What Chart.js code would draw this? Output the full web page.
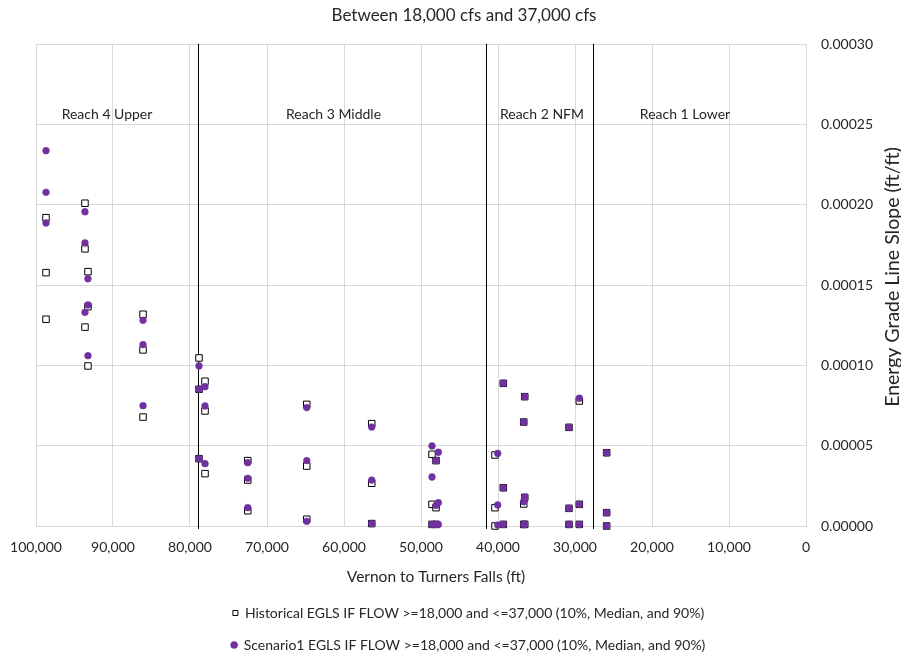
<!DOCTYPE html>
<html>
<head>
<meta charset="utf-8">
<script src="https://cdn.jsdelivr.net/npm/chart.js@4.4.1/dist/chart.umd.min.js"></script>
<style>
  html, body { margin: 0; padding: 0; background: #ffffff; }
  #wrap { width: 901px; height: 655px; }
</style>
</head>
<body>
<div id="wrap"><canvas id="c" width="901" height="655"></canvas></div>
<script>
// River stations (ft upstream of Turners Falls)
const stationsFt = [98700, 93640, 93250, 86100, 78830, 78050, 72500, 64840, 56400,
                    48570, 48050, 47750, 40390, 40040, 39310, 36660, 36530, 30780, 29440, 25890];

// Historical EGLS, 18,000-37,000 cfs (90%, median, 10%)
const hist90  = [0.0001919, 0.0002009, 0.0001583, 0.0001318, 0.0001046, 0.0000901, 0.0000407, 0.0000757, 0.0000637,
                 0.0000446, 0.0000407, null, 0.0000442, null, 0.0000888, 0.0000647, 0.0000805, 0.0000614, 0.0000778, 0.0000456];
const histMed = [0.0001577, 0.0001725, 0.0001365, 0.0001096, 0.0000851, 0.0000716, 0.0000286, 0.0000373, 0.0000266,
                 0.0000135, 0.0000114, null, 0.0000114, null, 0.0000238, 0.0000137, 0.0000178, 0.0000110, 0.0000135, 0.0000083];
const hist10  = [0.0001287, 0.0001238, 0.0000996, 0.0000678, 0.0000419, 0.0000326, 0.0000095, 0.0000042, 0.0000015,
                 0.0000010, 0.0000010, null, 0.0000000, null, 0.0000010, 0.0000010, 0.0000010, 0.0000010, 0.0000010, 0.0000000];

// Scenario1 EGLS, 18,000-37,000 cfs (90%, median, 10%)
const scen90  = [0.0002336, 0.0001956, 0.0001539, 0.0001280, 0.0000996, 0.0000867, 0.0000394, 0.0000737, 0.0000616,
                 0.0000498, 0.0000407, 0.0000459, null, 0.0000452, 0.0000888, 0.0000647, 0.0000805, 0.0000614, 0.0000795, 0.0000456];
const scenMed = [0.0002077, 0.0001762, 0.0001376, 0.0001129, 0.0000851, 0.0000747, 0.0000297, 0.0000407, 0.0000286,
                 0.0000305, 0.0000128, 0.0000145, null, 0.0000131, 0.0000238, 0.0000151, 0.0000180, 0.0000110, 0.0000135, 0.0000083];
const scen10  = [0.0001886, 0.0001330, 0.0001060, 0.0000749, 0.0000419, 0.0000388, 0.0000114, 0.0000029, 0.0000015,
                 0.0000010, 0.0000010, 0.0000010, null, 0.0000006, 0.0000010, 0.0000010, 0.0000010, 0.0000010, 0.0000010, 0.0000000];

// Reach boundaries and reach names
const reachBoundaries = [78900, 41600, 27650];
const reachNames = ['Reach 4 Upper', 'Reach 3 Middle', 'Reach 2 NFM', 'Reach 1 Lower'];
const reachLabelStations = [90780, 61360, 34290, 15710];
const reachLabelLevel = 0.000256;

const seriesNames = [
  'Historical EGLS IF FLOW >=18,000 and <=37,000 (10%, Median, and 90%)',
  'Scenario1 EGLS IF FLOW >=18,000 and <=37,000 (10%, Median, and 90%)'
];
const chartTitle = 'Between 18,000 cfs and 37,000 cfs';
const xAxisTitle = 'Vernon to Turners Falls (ft)';
const yAxisTitle = 'Energy Grade Line Slope (ft/ft)';

const FONT = 'Lato, "Open Sans", sans-serif';
const TEXT = '#262626';
const PURPLE = '#7030A0';

function toPoints(...cols) {
  const pts = [];
  stationsFt.forEach((s, i) => {
    cols.forEach(col => { if (col[i] !== null) pts.push({ x: s, y: col[i] }); });
  });
  return pts;
}

// Reach dividers, reach names, chart title and axis titles
const decorations = {
  id: 'decorations',
  beforeDatasetsDraw(chart) {
    const { ctx, chartArea, scales: { x, y } } = chart;
    ctx.save();
    ctx.strokeStyle = '#000000';
    ctx.lineWidth = 1;
    reachBoundaries.forEach(b => {
      const px = Math.round(x.getPixelForValue(b)) + 0.5;
      ctx.beginPath();
      ctx.moveTo(px, chartArea.top);
      ctx.lineTo(px, chartArea.bottom + 3);
      ctx.stroke();
    });
    ctx.font = '14px ' + FONT;
    ctx.fillStyle = TEXT;
    ctx.textAlign = 'center';
    ctx.textBaseline = 'middle';
    reachNames.forEach((n, i) => {
      ctx.fillText(n, x.getPixelForValue(reachLabelStations[i]), y.getPixelForValue(reachLabelLevel));
    });
    ctx.restore();
  },
  afterDraw(chart) {
    const { ctx, chartArea } = chart;
    ctx.save();
    ctx.fillStyle = TEXT;
    ctx.textAlign = 'center';
    ctx.textBaseline = 'middle';
    ctx.font = '17px ' + FONT;
    ctx.fillText(chartTitle, 464, 16);
    ctx.font = '15.5px ' + FONT;
    ctx.fillText(xAxisTitle, 436, chartArea.bottom + 51);
    ctx.translate(893, 277);
    ctx.rotate(-Math.PI / 2);
    ctx.font = '19.5px ' + FONT;
    ctx.fillText(yAxisTitle, 0, 0);
    ctx.restore();
  }
};

function build() {
  new Chart(document.getElementById('c'), {
    type: 'scatter',
    data: {
      datasets: [
        {
          label: seriesNames[0],
          data: toPoints(hist90, histMed, hist10),
          pointStyle: 'rect',
          pointRadius: 4.6,
          pointHoverRadius: 4.6,
          backgroundColor: '#ffffff',
          borderColor: '#000000',
          borderWidth: 1,
          order: 1,
          clip: false
        },
        {
          label: seriesNames[1],
          data: toPoints(scen90, scenMed, scen10),
          pointStyle: 'circle',
          pointRadius: 3.4,
          pointHoverRadius: 3.4,
          backgroundColor: PURPLE,
          borderColor: PURPLE,
          borderWidth: 0.5,
          order: 0,
          clip: false
        }
      ]
    },
    options: {
      responsive: false,
      animation: false,
      events: [],
      layout: { padding: { top: 44, left: 36, right: 0, bottom: -7 } },
      scales: {
        x: {
          type: 'linear',
          reverse: true,
          min: 0,
          max: 100000,
          afterFit: s => { s.height = 62; s.paddingLeft = 0; s.paddingRight = 0; },
          ticks: {
            stepSize: 10000,
            padding: 13,
            color: TEXT,
            font: { family: FONT, size: 14 },
            callback: v => v.toLocaleString('en-US')
          },
          grid: { color: '#d9d9d9', drawTicks: false },
          border: { color: '#d9d9d9' },
          title: { display: false }
        },
        y: {
          type: 'linear',
          position: 'right',
          min: 0,
          max: 0.0003,
          afterFit: s => { s.width = 95; },
          ticks: {
            stepSize: 0.00005,
            padding: 15,
            color: TEXT,
            font: { family: FONT, size: 14 },
            callback: v => v.toFixed(5)
          },
          grid: { color: '#d9d9d9', drawTicks: false },
          border: { color: '#d9d9d9' }
        }
      },
      plugins: {
        title: { display: false },
        tooltip: { enabled: false },
        legend: {
          position: 'bottom',
          labels: {
            usePointStyle: true,
            boxHeight: 5,
            boxWidth: 5,
            padding: 18,
            color: TEXT,
            font: { family: FONT, size: 14 },
            sort: (a, b) => a.datasetIndex - b.datasetIndex
          }
        }
      }
    },
    plugins: [decorations]
  });
}

if (document.fonts && document.fonts.load) {
  Promise.all([document.fonts.load('14px Lato'), document.fonts.load('16px Lato')])
    .then(build, build);
} else {
  build();
}
</script>
</body>
</html>
